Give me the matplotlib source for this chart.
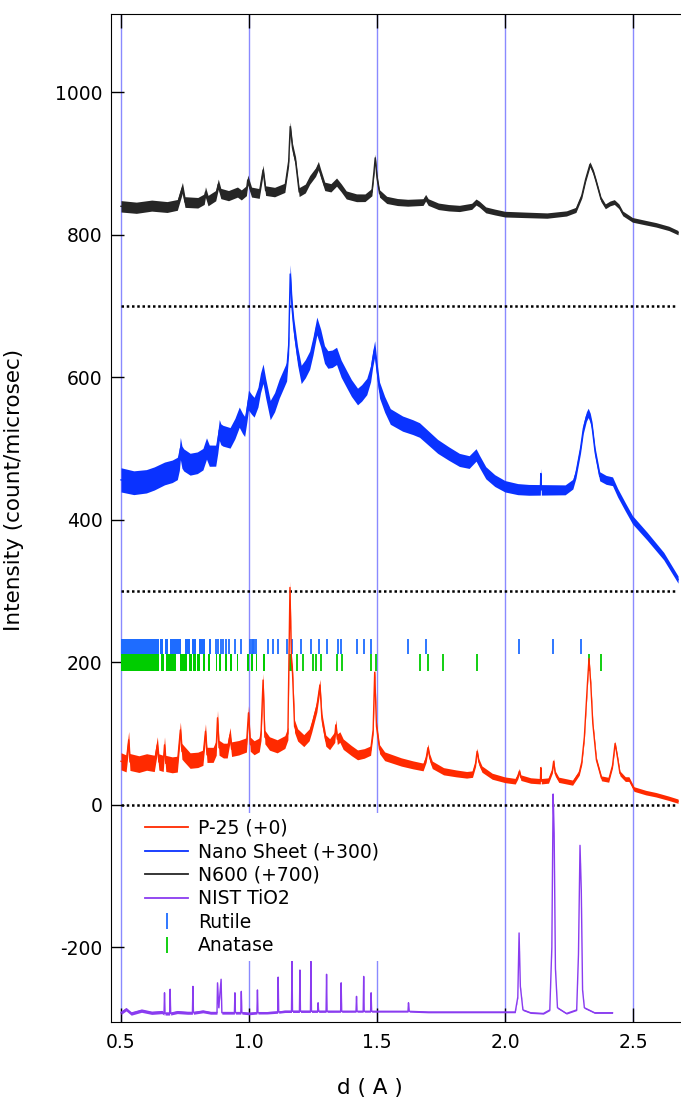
import numpy as np
import matplotlib
matplotlib.use("Agg")
import matplotlib.pyplot as plt
from matplotlib.lines import Line2D

## XRD patterns of TiO2 samples, plotted against d-spacing ##

# N600, raw counts (plotted with +700 offset)
n600_d = [0.50, 0.56, 0.62, 0.68, 0.72, 0.735, 0.74, 0.75, 0.80, 0.825, 0.83, 0.84,
          0.87, 0.88, 0.89, 0.92, 0.955, 0.97, 0.99, 0.995, 1.01, 1.04, 1.055, 1.065,
          1.10, 1.14, 1.155, 1.161, 1.17, 1.182, 1.196, 1.22, 1.237, 1.26, 1.271, 1.28,
          1.296, 1.32, 1.342, 1.36, 1.38, 1.42, 1.453, 1.48, 1.488, 1.493, 1.50, 1.51,
          1.538, 1.58, 1.62, 1.68, 1.69, 1.70, 1.74, 1.78, 1.822, 1.87, 1.887, 1.90,
          1.925, 1.96, 2.00, 2.08, 2.164, 2.24, 2.277, 2.30, 2.315, 2.332, 2.345, 2.355,
          2.375, 2.392, 2.41, 2.427, 2.445, 2.46, 2.498, 2.55, 2.59, 2.64, 2.676]
n600_i = [140, 138, 141, 139, 142, 160, 166, 146, 145, 150, 160, 148,
          155, 171, 158, 155, 160, 156, 162, 177, 160, 158, 191, 162,
          160, 166, 203, 252, 222, 203, 160, 165, 177, 188, 197, 186,
          168, 166, 174, 166, 156, 152, 152, 160, 188, 208, 180, 158,
          149, 146, 145, 146, 152, 146, 140, 138, 137, 140, 146, 143,
          135, 132, 129, 128, 127, 130, 135, 155, 178, 199, 188, 176,
          150, 140, 144, 146, 140, 130, 121, 117, 114, 109, 103]
n600_noise_d = [0.5, 1.0, 1.55, 2.0, 2.68]
n600_noise = [8, 7, 5, 4, 3]

# Nano Sheet, raw counts (plotted with +300 offset)
nano_d = [0.50, 0.55, 0.599, 0.63, 0.67, 0.70, 0.72, 0.728, 0.732, 0.738, 0.745, 0.77,
          0.798, 0.82, 0.834, 0.845, 0.87, 0.878, 0.884, 0.89, 0.898, 0.926, 0.945,
          0.962, 0.975, 0.983, 0.992, 0.998, 1.01, 1.02, 1.035, 1.045, 1.055, 1.065,
          1.083, 1.10, 1.118, 1.135, 1.147, 1.155, 1.161, 1.168, 1.175, 1.19, 1.204,
          1.22, 1.237, 1.25, 1.265, 1.28, 1.295, 1.308, 1.325, 1.342, 1.36, 1.382,
          1.40, 1.424, 1.44, 1.46, 1.475, 1.483, 1.491, 1.50, 1.51, 1.53, 1.552, 1.60,
          1.64, 1.666, 1.70, 1.737, 1.78, 1.822, 1.86, 1.887, 1.90, 1.925, 1.96, 2.00,
          2.05, 2.093, 2.138, 2.14, 2.142, 2.20, 2.235, 2.265, 2.277, 2.295, 2.306,
          2.318, 2.325, 2.333, 2.34, 2.352, 2.37, 2.395, 2.42, 2.44, 2.47, 2.498,
          2.555, 2.62, 2.676]
nano_i = [156, 152, 154, 158, 165, 168, 172, 185, 200, 188, 184, 178,
          180, 185, 200, 190, 190, 208, 226, 220, 218, 215, 228,
          244, 235, 231, 252, 268, 262, 258, 272, 292, 305, 285,
          254, 265, 284, 298, 308, 345, 445, 398, 370, 330, 304,
          312, 324, 344, 372, 355, 332, 325, 326, 330, 312, 297,
          285, 273, 278, 287, 305, 325, 340, 310, 282, 262, 245, 235,
          230, 226, 215, 203, 193, 184, 181, 191, 182, 166, 155, 147,
          143, 142, 142, 165, 142, 142, 142, 150, 165, 200, 228,
          245, 250, 243, 231, 195, 161, 156, 154, 138, 118, 100,
          77, 49, 16]
nano_noise_d = [0.5, 1.0, 1.55, 2.0, 2.68]
nano_noise = [17, 14, 11, 8, 5]

# P-25, raw counts (+0)
p25_d = [0.50, 0.52, 0.53, 0.535, 0.57, 0.60, 0.63, 0.642, 0.648, 0.665, 0.67, 0.675,
         0.70, 0.72, 0.732, 0.738, 0.745, 0.77, 0.80, 0.82, 0.83, 0.836, 0.86, 0.872,
         0.877, 0.883, 0.90, 0.915, 0.926, 0.932, 0.96, 0.99, 0.998, 1.005, 1.02,
         1.04, 1.047, 1.055, 1.062, 1.08, 1.11, 1.14, 1.152, 1.16, 1.166, 1.17, 1.178,
         1.19, 1.214, 1.235, 1.245, 1.265, 1.277, 1.285, 1.30, 1.315, 1.335, 1.339,
         1.345, 1.355, 1.368, 1.40, 1.424, 1.45, 1.475, 1.485, 1.491, 1.498, 1.51,
         1.53, 1.595, 1.64, 1.68, 1.692, 1.699, 1.706, 1.716, 1.76, 1.809, 1.85,
         1.873, 1.885, 1.891, 1.898, 1.91, 1.95, 2.00, 2.04, 2.05, 2.056, 2.062,
         2.10, 2.138, 2.14, 2.142, 2.17, 2.185, 2.19, 2.196, 2.21, 2.264, 2.29,
         2.30, 2.31, 2.322, 2.328, 2.335, 2.343, 2.357, 2.377, 2.405, 2.42, 2.43,
         2.44, 2.449, 2.47, 2.484, 2.504, 2.55, 2.59, 2.64, 2.676]
p25_i = [61, 58, 91, 60, 57, 60, 58, 84, 60, 58, 84, 58,
         56, 57, 105, 75, 72, 62, 63, 66, 103, 70, 70, 80,
         122, 80, 76, 76, 98, 78, 80, 84, 129, 85, 80,
         84, 100, 175, 95, 86, 82, 88, 100, 305, 200, 185, 110,
         98, 90, 98, 110, 138, 168, 120, 90, 85, 95, 112,
         92, 95, 85, 76, 70, 72, 76, 105, 186, 110, 78,
         68, 60, 56, 53, 65, 80, 66, 56, 47, 44, 42,
         43, 58, 75, 60, 50, 40, 35, 33, 40, 47, 38,
         34, 33, 52, 33, 34, 48, 61, 44, 35, 31, 45,
         60, 95, 170, 205, 170, 114, 63, 37, 35, 55, 86,
         65, 44, 36, 36, 22, 17, 14, 9, 5]
p25_noise_d = [0.5, 1.0, 1.55, 2.0, 2.68]
p25_noise = [12, 10, 6, 4, 3]

# NIST TiO2 standard, raw counts
nist_d = [0.50, 0.52, 0.54, 0.58, 0.62, 0.66, 0.668, 0.670, 0.672, 0.69, 0.692, 0.694,
          0.72, 0.76, 0.779, 0.781, 0.783, 0.82, 0.85, 0.875, 0.877, 0.882, 0.891,
          0.894, 0.92, 0.943, 0.945, 0.947, 0.968, 0.970, 0.972, 1.00, 1.031, 1.033,
          1.035, 1.07, 1.112, 1.114, 1.116, 1.14, 1.166, 1.168, 1.170, 1.197, 1.199,
          1.201, 1.240, 1.242, 1.244, 1.268, 1.270, 1.272, 1.301, 1.303, 1.305, 1.358,
          1.360, 1.362, 1.418, 1.420, 1.422, 1.446, 1.448, 1.450, 1.475, 1.477, 1.479,
          1.50, 1.55, 1.621, 1.623, 1.626, 1.70, 1.85, 2.00, 2.04, 2.05, 2.055, 2.06,
          2.07, 2.10, 2.15, 2.175, 2.183, 2.188, 2.192, 2.197, 2.205, 2.24, 2.28,
          2.287, 2.293, 2.298, 2.303, 2.31, 2.35, 2.42]
nist_i = [-292, -287, -293, -289, -292, -291, -293, -264, -293, -293, -259, -293,
          -291, -292, -292, -255, -292, -290, -292, -292, -250, -285, -245,
          -292, -292, -292, -264, -292, -292, -262, -292, -293, -292, -260,
          -292, -292, -291, -242, -291, -290, -290, -220, -290, -290, -232,
          -290, -290, -220, -290, -290, -278, -290, -290, -238, -290, -290,
          -250, -290, -290, -269, -290, -290, -241, -290, -290, -264, -290,
          -290, -290, -290, -278, -290, -291, -291, -291, -291, -270, -180, -255,
          -288, -292, -293, -288, -200, 15, -40, -230, -285, -293, -288,
          -210, -57, -120, -260, -285, -292, -292]
nist_noise_d = [0.5, 1.5, 2.68]
nist_noise = [2.5, 1.2, 0.8]

# reference reflections (d, A): single lines and dense clusters (start, end)
rutile_lines = [0.871, 0.880, 0.891, 0.900, 0.909, 0.923, 0.945, 0.967, 1.004, 1.010,
                1.015, 1.020, 1.026, 1.075, 1.093, 1.115, 1.150, 1.169, 1.202, 1.242,
                1.274, 1.303, 1.346, 1.359, 1.420, 1.449, 1.477, 1.622, 1.690, 2.055,
                2.189, 2.296]
rutile_bands = [(0.500, 0.650), (0.652, 0.665), (0.672, 0.685), (0.691, 0.734),
                (0.750, 0.770), (0.776, 0.793), (0.806, 0.828), (0.844, 0.852)]
anatase_lines = [1.160, 1.166, 1.189, 1.212, 1.251, 1.261, 1.280, 1.343, 1.365, 1.477,
                 1.496, 1.668, 1.700, 1.756, 1.892, 2.329, 2.375]
anatase_bands = [(0.500, 0.650), (0.655, 0.668), (0.675, 0.715), (0.730, 0.759),
                 (0.766, 0.776), (0.783, 0.792), (0.798, 0.809), (0.819, 0.828),
                 (0.841, 0.848), (0.871, 0.876), (0.883, 0.891), (0.906, 0.913),
                 (0.926, 0.932), (0.952, 0.958), (0.991, 1.001), (1.007, 1.017),
                 (1.026, 1.032), (1.056, 1.063)]

offsets = [0, 300, 700]

RED = '#ff2a00'
BLUE = '#0a32ff'
BLACK = '#262626'
PURPLE = '#8a3cf0'
RUT = '#1e6cff'
ANA = '#00cc00'
GRID = '#8a8aff'

plt.rcParams['font.family'] = ['DejaVu Sans']
plt.rcParams['axes.unicode_minus'] = False

fig = plt.figure(figsize=(6.81, 11.0), dpi=100)
ax = fig.add_axes([0.163, 0.0709, 0.837, 0.9164])


def draw_trace(d, counts, offset, noise_d, noise, color):
    d = np.asarray(d)
    y = np.asarray(counts) + offset
    hw = np.interp(d, noise_d, noise)
    ax.fill_between(d, y - hw, y + hw, color=color, lw=0, zorder=3)
    ax.plot(d, y, color=color, lw=1.0, zorder=3)


for x in [0.5, 1.0, 1.5, 2.0, 2.5]:
    ax.axvline(x, color=GRID, lw=1.0, zorder=1)

ax.hlines(offsets, 0.5, 2.668, colors='k', linestyles=(0, (1, 1.1)), lw=1.8, zorder=1.5)

# reflection markers
ax.vlines(rutile_lines, 212, 232, colors=RUT, lw=1.3, zorder=2)
ax.broken_barh([(s, e - s) for s, e in rutile_bands], (212, 20), facecolors=RUT, zorder=2)
ax.vlines(anatase_lines, 188, 212, colors=ANA, lw=1.3, zorder=2)
ax.broken_barh([(s, e - s) for s, e in anatase_bands], (188, 24), facecolors=ANA, zorder=2)

draw_trace(nist_d, nist_i, 0, nist_noise_d, nist_noise, PURPLE)
draw_trace(n600_d, n600_i, offsets[2], n600_noise_d, n600_noise, BLACK)
draw_trace(nano_d, nano_i, offsets[1], nano_noise_d, nano_noise, BLUE)
draw_trace(p25_d, p25_i, offsets[0], p25_noise_d, p25_noise, RED)

ax.set_xlim(0.461, 2.6875)
ax.set_ylim(-305, 1110)
ax.set_xticks([0.5, 1.0, 1.5, 2.0, 2.5])
ax.set_xticklabels(['0.5', '1.0', '1.5', '2.0', '2.5'])
ax.set_yticks([-200, 0, 200, 400, 600, 800, 1000])
ax.tick_params(axis='x', direction='in', top=True, length=10, width=1, labelsize=13.5, pad=8)
ax.tick_params(axis='y', direction='in', length=9, width=1, labelsize=13.5, pad=6)
ax.spines['right'].set_visible(False)
ax.set_xlabel('d ( A )', fontsize=15.5)
ax.set_ylabel('Intensity (count/microsec)', fontsize=15.5)
ax.xaxis.set_label_coords(0.454, -0.056)
ax.yaxis.set_label_coords(-0.152, 0.528)

handles = [Line2D([], [], color=RED, lw=1.3),
           Line2D([], [], color=BLUE, lw=1.3),
           Line2D([], [], color=BLACK, lw=1.3),
           Line2D([], [], color=PURPLE, lw=1.3),
           Line2D([], [], color=RUT, marker='|', ls='None', ms=12, mew=1.3),
           Line2D([], [], color=ANA, marker='|', ls='None', ms=12, mew=1.3)]
labels = ['P-25 (+0)', 'Nano Sheet (+300)', 'N600 (+700)', 'NIST TiO2', 'Rutile', 'Anatase']
leg = ax.legend(handles, labels, loc='upper left', bbox_to_anchor=(0.05, 0.207),
                frameon=True, facecolor='white', edgecolor='none', framealpha=1,
                fontsize=13.5, handlelength=2.3, handletextpad=0.5, labelspacing=0.24,
                borderpad=0.3, borderaxespad=0)
leg.set_zorder(5)

fig.savefig('out.png', dpi=100)
